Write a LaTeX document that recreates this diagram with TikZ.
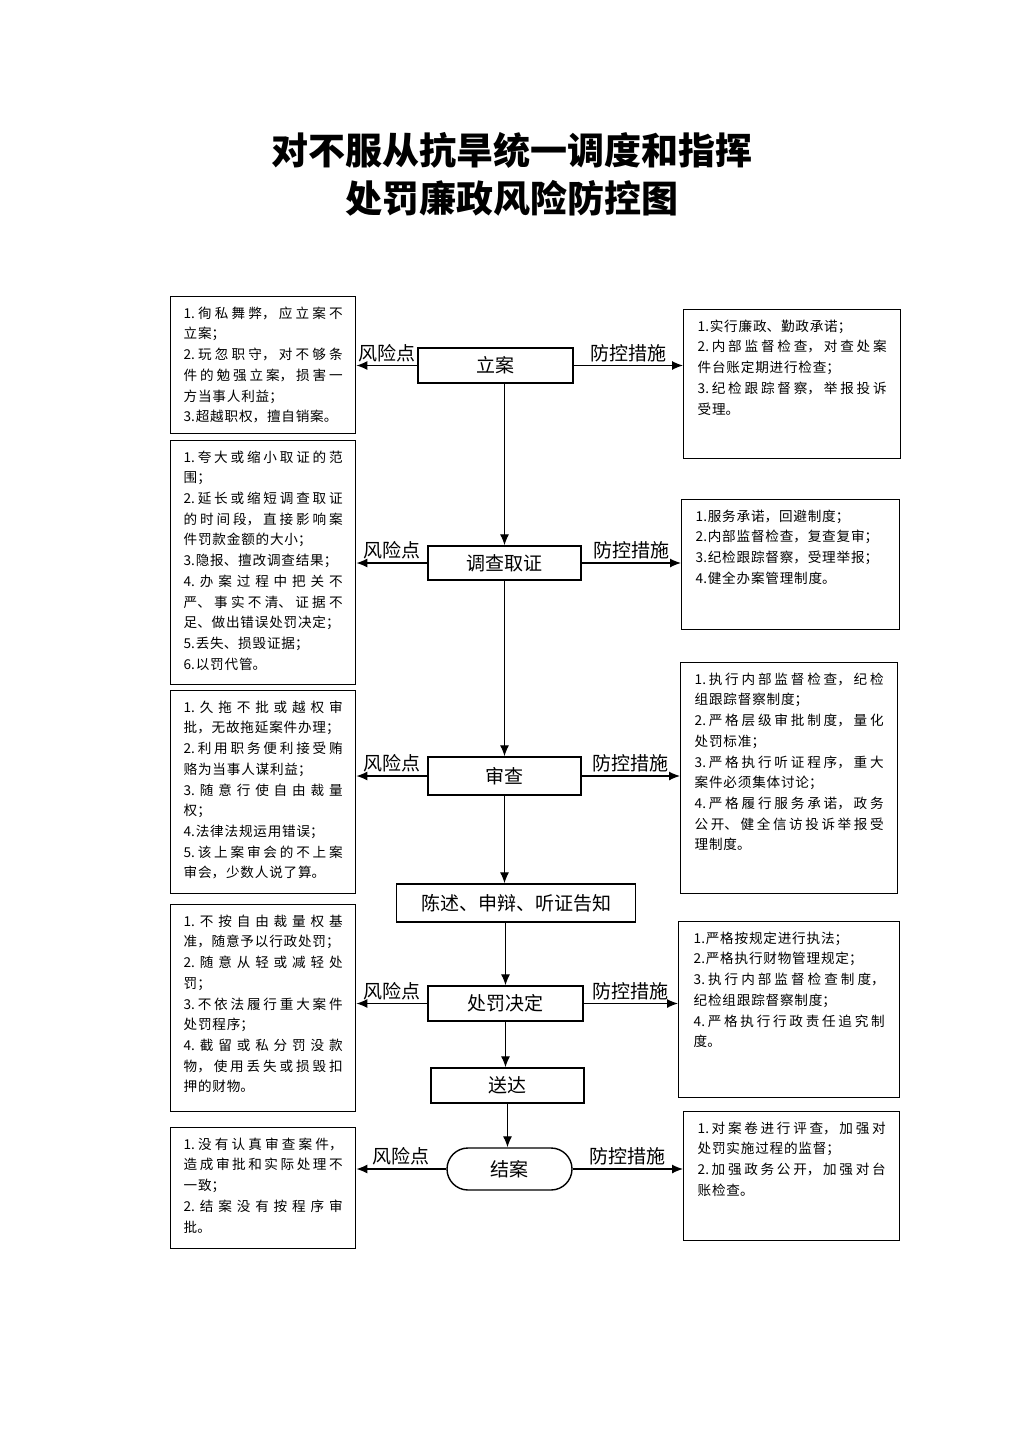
\documentclass[tikz,border=0pt]{standalone}
\usepackage{fontspec}
\newfontfamily\cjk{Noto Sans CJK SC}
\usetikzlibrary{arrows.meta,shapes.misc,positioning}
\XeTeXlinebreaklocale "zh"
\XeTeXlinebreakskip=0.8pt plus 6pt
\tolerance=9999

\newcommand{\boxtext}[3]{\parbox[t][#2pt][t]{#1pt}{#3}}

\tikzset{
  procbox/.style={draw, line width=1.4pt, inner sep=0pt, font=\cjk\fontsize{19}{22}\selectfont},
  notebox/.style={draw, line width=1.4pt, inner ysep=10pt, anchor=north west,
    font=\cjk\fontsize{13.6}{20.7}\selectfont},
  flow/.style={-{Latex[length=11pt,width=9pt]}, line width=1.2pt},
  lab/.style={above, inner sep=3pt, font=\cjk\fontsize{19}{22}\selectfont}
}

\begin{document}
\begin{tikzpicture}[x=1pt,y=-1pt]
  \useasboundingbox[fill=white] (0,0) rectangle (1024,1449);

  \node[font=\cjk\bfseries\fontsize{37}{44}\selectfont] (title1) at (512,150) {对不服从抗旱统一调度和指挥};
  \node[font=\cjk\bfseries\fontsize{37}{44}\selectfont] (title2) at (512,198) {处罚廉政风险防控图};

  % main steps
  \node[procbox, minimum width=155pt, minimum height=35pt] (la) at (495.5,365.5) {立案};
  \node[procbox, minimum width=153pt, minimum height=34pt] (dc) at (504.5,563) {调查取证};
  \node[procbox, minimum width=153pt, minimum height=38pt] (sc) at (504.5,776) {审查};
  \node[procbox, minimum width=239pt, minimum height=38pt] (cs) at (516,903) {陈述、申辩、听证告知};
  \node[procbox, minimum width=155pt, minimum height=35pt] (cf) at (505.5,1003.5) {处罚决定};
  \node[procbox, minimum width=153pt, minimum height=35pt] (sd) at (507.5,1085.5) {送达};
  \node[procbox, rounded rectangle, minimum width=125pt, minimum height=42pt] (ja) at (509.5,1169) {结案};

  % risks
  \node[notebox, inner xsep=13pt] (r1) at (170,296) {\boxtext{159}{117}{%
    1.徇私舞弊，应立案不\linebreak 立案；\par
    2.玩忽职守，对不够条\linebreak 件的勉强立案，损害一\linebreak 方当事人利益；\par
    3.超越职权，擅自销案。}};
  \node[notebox, inner xsep=13pt] (r2) at (170,440) {\boxtext{159}{224}{%
    1.夸大或缩小取证的范\linebreak 围；\par
    2.延长或缩短调查取证\linebreak 的时间段，直接影响案\linebreak 件罚款金额的大小；\par
    3.隐报、擅改调查结果；\par
    4.办案过程中把关不\linebreak 严、事实不清、证据不\linebreak 足、做出错误处罚决定；\par
    5.丢失、损毁证据；\par
    6.以罚代管。}};
  \node[notebox, inner xsep=13pt] (r3) at (170,690) {\boxtext{159}{183}{%
    1.久拖不批或越权审\linebreak 批，无故拖延案件办理；\par
    2.利用职务便利接受贿\linebreak 赂为当事人谋利益；\par
    3.随意行使自由裁量\linebreak 权；\par
    4.法律法规运用错误；\par
    5.该上案审会的不上案\linebreak 审会，少数人说了算。}};
  \node[notebox, inner xsep=13pt] (r4) at (170,904) {\boxtext{159}{187}{%
    1.不按自由裁量权基\linebreak 准，随意予以行政处罚；\par
    2.随意从轻或减轻处\linebreak 罚；\par
    3.不依法履行重大案件\linebreak 处罚程序；\par
    4.截留或私分罚没款\linebreak 物，使用丢失或损毁扣\linebreak 押的财物。}};
  \node[notebox, inner xsep=13pt] (r5) at (170,1127) {\boxtext{159}{101}{%
    1.没有认真审查案件，\linebreak 造成审批和实际处理不\linebreak 一致；\par
    2.结案没有按程序审\linebreak 批。}};

  % measures
  \node[notebox, inner xsep=14pt] (m1) at (683,309) {\boxtext{189}{129}{%
    1.实行廉政、勤政承诺；\par
    2.内部监督检查，对查处案\linebreak 件台账定期进行检查；\par
    3.纪检跟踪督察，举报投诉\linebreak 受理。}};
  \node[notebox, inner xsep=14pt] (m2) at (681,499) {\boxtext{190}{110}{%
    1.服务承诺，回避制度；\par
    2.内部监督检查，复查复审；\par
    3.纪检跟踪督察，受理举报；\par
    4.健全办案管理制度。}};
  \node[notebox, inner xsep=14pt] (m3) at (680,662) {\boxtext{189}{211}{%
    1.执行内部监督检查，纪检\linebreak 组跟踪督察制度；\par
    2.严格层级审批制度，量化\linebreak 处罚标准；\par
    3.严格执行听证程序，重大\linebreak 案件必须集体讨论；\par
    4.严格履行服务承诺，政务\linebreak 公开、健全信访投诉举报受\linebreak 理制度。}};
  \node[notebox, inner xsep=15pt] (m4) at (678,921) {\boxtext{191}{156}{%
    1.严格按规定进行执法；\par
    2.严格执行财物管理规定；\par
    3.执行内部监督检查制度，\linebreak 纪检组跟踪督察制度；\par
    4.严格执行行政责任追究制\linebreak 度。}};
  \node[notebox, inner xsep=14pt] (m5) at (683,1111) {\boxtext{188}{109}{%
    1.对案卷进行评查，加强对\linebreak 处罚实施过程的监督；\par
    2.加强政务公开，加强对台\linebreak 账检查。}};

  % flow down
  \draw[flow] (la.south -| dc.north) -- (dc.north);
  \draw[flow] (dc.south) -- (dc.south |- sc.north);
  \draw[flow] (sc.south) -- (sc.south |- cs.north);
  \draw[flow] (cs.south -| cf.north) -- (cf.north);
  \draw[flow] (cf.south) -- (cf.south |- sd.north);
  \draw[flow] (sd.south) -- (sd.south |- ja.north);

  % sides
  \foreach \s/\r/\m in {la/r1/m1, dc/r2/m2, sc/r3/m3, cf/r4/m4, ja/r5/m5}{
    \draw[flow] (\s.west) -- (\s.west -| \r.east) node[midway, lab] {风险点};
    \draw[flow] (\s.east) -- (\s.east -| \m.west) node[midway, lab] {防控措施};
  }
\end{tikzpicture}
\end{document}
